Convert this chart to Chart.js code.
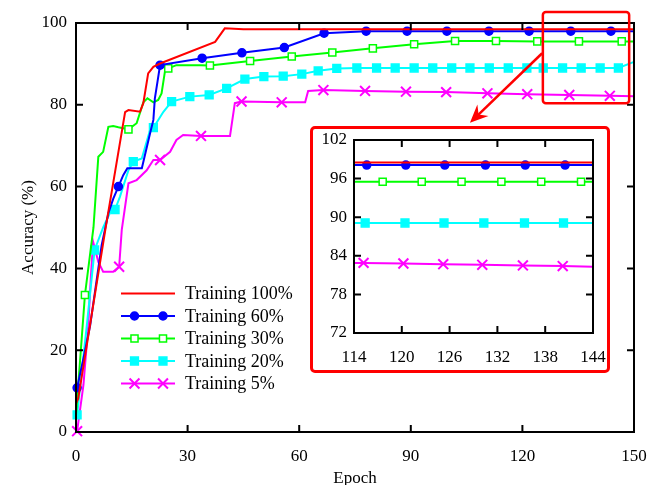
<!DOCTYPE html>
<html>
<head>
<meta charset="utf-8">
<script src="https://cdn.jsdelivr.net/npm/chart.js@4.4.0/dist/chart.umd.min.js"></script>
<style>
  body { margin: 0; background: #fff; }
  #wrap { position: relative; width: 652px; height: 485px; }
  #zoomBox {
    position: absolute; left: 310px; top: 126px; width: 300px; height: 247px;
    border: 3px solid #ff0000; border-radius: 5px; box-sizing: border-box; background: #fff;
  }
  #zoomBox canvas { position: absolute; left: 0; top: 0; }
</style>
</head>
<body>
<div id="wrap">
  <canvas id="mainChart" width="652" height="485"></canvas>
  <div id="zoomBox"><canvas id="insetChart" width="294" height="241"></canvas></div>
</div>
<script>
Chart.defaults.font.family = '"Liberation Serif", "Times New Roman", serif';
Chart.defaults.color = "#000";

// labels and ticks
const seriesLabels = ["Training 100%", "Training 60%", "Training 30%", "Training 20%", "Training 5%"];
const xTicks = [0, 30, 60, 90, 120, 150];
const yTicks = [0, 20, 40, 60, 80, 100];
const insetXTicks = [114, 120, 126, 132, 138, 144];
const insetYTicks = [72, 78, 84, 90, 96, 102];

// main plot: epoch / accuracy (%) / epochs that carry a marker
const epochs100 = [0, 0.6, 7.8, 13.2, 14.1, 17.2, 18.1, 19.4, 20.8, 22.6, 37.4, 40, 45, 150];
const acc100 = [7, 8.2, 49, 78.2, 78.7, 78.3, 80.4, 87.7, 89.3, 90.1, 95.4, 98.7, 98.5, 98.5];

const epochs60 = [0.3, 2, 3.8, 6, 6.9, 8.7, 10, 11.4, 12.7, 13.8, 17.7, 19.9, 20.8, 21.2, 21.9, 22.6, 33.9, 44.6, 56, 66.7, 78, 89, 99.7, 111, 121.8, 133, 143.8, 150];
const acc60 = [10.8, 18, 26, 40, 45.7, 53.5, 57, 60, 62.8, 64.5, 64.5, 73, 76.3, 81.6, 85.6, 89.7, 91.4, 92.7, 94, 97.5, 98, 98, 98, 98, 98, 98, 98, 98];
const marks60 = [0.3, 11.4, 22.6, 33.9, 44.6, 56, 66.7, 78, 89, 99.7, 111, 121.8, 133, 143.8];

const epochs30 = [0, 2.4, 4.7, 6, 7.3, 8.7, 10, 11.4, 14.1, 16.3, 18.1, 19.2, 20.8, 22.1, 23, 23.9, 24.8, 27, 33.3, 36, 46.8, 58, 68.9, 79.8, 90.9, 101.9, 112.9, 124, 135.2, 146.7, 150];
const acc30 = [4, 33.5, 50, 67.3, 68.5, 74.6, 74.8, 74.5, 74, 75.5, 80.6, 81.6, 80.6, 81.2, 82.8, 88.1, 88.9, 89.7, 89.7, 89.6, 90.7, 91.8, 92.8, 93.8, 94.8, 95.6, 95.6, 95.5, 95.5, 95.5, 95.5];
const marks30 = [2.4, 14.1, 24.8, 36, 46.8, 58, 68.9, 79.8, 90.9, 101.9, 112.9, 124, 135.2, 146.7];

const epochs20 = [0.3, 2.9, 5, 7.3, 9.6, 10.5, 11.8, 14.1, 15.4, 17.7, 19.9, 20.8, 23.5, 25.7, 30.6, 35.8, 40.5, 45.4, 50.5, 55.7, 60.7, 65.1, 70.1, 75.5, 80.8, 85.8, 90.9, 95.9, 101, 105.9, 111.1, 116.2, 121.2, 125.6, 130.8, 135.8, 140.9, 145.8, 150];
const acc20 = [4.2, 26, 44.5, 50, 54.5, 54.4, 57.5, 64, 66.1, 66.9, 73.8, 74.4, 78.3, 80.8, 82, 82.4, 84, 86.3, 86.9, 87, 87.5, 88.3, 88.9, 89, 89, 89, 89, 89, 89, 89, 89, 89, 89, 89, 89, 89, 89, 89, 90.5];
const marks20 = [0.3, 5, 10.5, 15.4, 20.8, 25.7, 30.6, 35.8, 40.5, 45.4, 50.5, 55.7, 60.7, 65.1, 70.1, 75.5, 80.8, 85.8, 90.9, 95.9, 101, 105.9, 111.1, 116.2, 121.2, 125.6, 130.8, 135.8, 140.9, 145.8];

const epochs5 = [0.3, 2, 3.3, 4, 4.6, 6, 7.3, 10, 11.6, 12.3, 14.1, 16.3, 19, 20.8, 22.6, 25.3, 27, 28.8, 33.6, 41.4, 42.7, 44.5, 55.3, 61.6, 62.4, 66.5, 77.7, 88.7, 99.5, 110.6, 121.3, 132.6, 143.5, 150];
const acc5 = [0.2, 11.5, 26, 38, 46.5, 41.6, 39.2, 39.2, 40.4, 49.4, 60.8, 61.6, 64, 66.5, 66.5, 68.5, 71.4, 72.6, 72.4, 72.4, 80.4, 80.8, 80.6, 80.6, 83.4, 83.6, 83.4, 83.2, 83.1, 82.8, 82.6, 82.4, 82.2, 82.1];
const marks5 = [0.3, 11.6, 22.6, 33.6, 44.5, 55.3, 66.5, 77.7, 88.7, 99.5, 110.6, 121.3, 132.6, 143.5];

// zoomed inset (epochs 114-144)
const insetEpochs100 = [114, 144];
const insetAcc100 = [98.5, 98.5];
const insetEpochs60 = [114, 115.6, 120.5, 125.4, 130.5, 135.5, 140.5, 144];
const insetAcc60 = [98.1, 98.1, 98.1, 98.1, 98.1, 98.1, 98.1, 98.1];
const insetEpochs30 = [114, 117.6, 122.5, 127.5, 132.5, 137.5, 142.5, 144];
const insetAcc30 = [95.5, 95.5, 95.5, 95.5, 95.5, 95.5, 95.5, 95.5];
const insetEpochs20 = [114, 115.4, 120.4, 125.3, 130.3, 135.4, 140.3, 144];
const insetAcc20 = [89.1, 89.1, 89.1, 89.1, 89.1, 89.1, 89.1, 89.1];
const insetEpochs5 = [114, 115.2, 120.2, 125.2, 130.1, 135.2, 140.2, 144];
const insetAcc5 = [82.9, 82.9, 82.8, 82.7, 82.6, 82.5, 82.4, 82.3];

const styles = [
  { color: "#ff0000", shape: null },
  { color: "#0000ff", shape: "circle", radius: 4, fill: "#0000ff" },
  { color: "#00ff00", shape: "rect", radius: 5, fill: "#ffffff" },
  { color: "#00ffff", shape: "rect", radius: 5.5, fill: "#00ffff" },
  { color: "#ff00ff", shape: "crossRot", radius: 7, fill: "#ff00ff" },
];

const points = (xs, ys) => xs.map((x, i) => ({ x: x, y: ys[i] }));

// marks === null -> marker on every inner point (inset)
const makeDataset = (i, xs, ys, marks) => {
  const s = styles[i];
  const hasMark = (c) => {
    if (!s.shape || !c.raw) return false;
    if (marks) return marks.includes(c.raw.x);
    return c.dataIndex > 0 && c.dataIndex < xs.length - 1;
  };
  return {
    label: seriesLabels[i],
    data: points(xs, ys),
    borderColor: s.color,
    borderWidth: 2,
    pointStyle: s.shape || "circle",
    pointRadius: (c) => (hasMark(c) ? s.radius : 0),
    pointBackgroundColor: s.fill || s.color,
    pointBorderColor: s.color,
    pointBorderWidth: s.shape === "crossRot" ? 2 : 1.5,
    tension: 0,
    clip: false,
  };
};

function drawMarker(ctx, s, px, py) {
  const h = s.radius * Math.SQRT1_2;
  ctx.save();
  ctx.fillStyle = s.fill;
  ctx.strokeStyle = s.color;
  ctx.lineWidth = s.shape === "crossRot" ? 2 : 1.5;
  ctx.beginPath();
  if (s.shape === "circle") {
    ctx.arc(px, py, s.radius, 0, Math.PI * 2);
  } else if (s.shape === "rect") {
    ctx.rect(px - h, py - h, 2 * h, 2 * h);
  } else {
    ctx.moveTo(px - h, py - h); ctx.lineTo(px + h, py + h);
    ctx.moveTo(px - h, py + h); ctx.lineTo(px + h, py - h);
  }
  if (s.shape !== "crossRot") ctx.fill();
  ctx.stroke();
  ctx.restore();
}

// box around plot with inward ticks on all four sides
const framePlugin = {
  id: "frame",
  afterDatasetsDraw(chart, args, opts) {
    const { ctx, chartArea: a, scales: { x, y } } = chart;
    const len = opts.tick;
    ctx.save();
    ctx.strokeStyle = "#000";
    ctx.lineWidth = opts.width;
    ctx.strokeRect(a.left, a.top, a.right - a.left, a.bottom - a.top);
    ctx.beginPath();
    x.ticks.forEach((t) => {
      if (t.value <= x.min || t.value >= x.max) return;
      const px = x.getPixelForValue(t.value);
      ctx.moveTo(px, a.bottom); ctx.lineTo(px, a.bottom - len);
      ctx.moveTo(px, a.top); ctx.lineTo(px, a.top + len);
    });
    y.ticks.forEach((t) => {
      if (t.value <= y.min || t.value >= y.max) return;
      const py = y.getPixelForValue(t.value);
      ctx.moveTo(a.left, py); ctx.lineTo(a.left + len, py);
      ctx.moveTo(a.right, py); ctx.lineTo(a.right - len, py);
    });
    ctx.stroke();
    ctx.restore();
  },
};

// red box over the zoomed region + arrow down to the inset
const zoomMarkPlugin = {
  id: "zoomMark",
  afterDraw(chart) {
    const { ctx, scales: { x, y } } = chart;
    const l = x.getPixelForValue(125.5), r = x.getPixelForValue(148.7);
    const t = y.getPixelForValue(102.7), b = y.getPixelForValue(80.4);
    ctx.save();
    ctx.strokeStyle = "#ff0000";
    ctx.fillStyle = "#ff0000";
    ctx.lineWidth = 2.5;
    ctx.beginPath();
    if (ctx.roundRect) ctx.roundRect(l, t, r - l, b - t, 3);
    else ctx.rect(l, t, r - l, b - t);
    ctx.stroke();

    const x0 = x.getPixelForValue(125.3), y0 = y.getPixelForValue(92.6);
    const x1 = x.getPixelForValue(105.9), y1 = y.getPixelForValue(75.6);
    const ang = Math.atan2(y1 - y0, x1 - x0);
    const headLen = 18, headW = 8;
    const bx = x1 - Math.cos(ang) * headLen, by = y1 - Math.sin(ang) * headLen;
    ctx.beginPath();
    ctx.moveTo(x0, y0);
    ctx.lineTo(x1 - Math.cos(ang) * 10, y1 - Math.sin(ang) * 10);
    ctx.stroke();
    ctx.beginPath();
    ctx.moveTo(x1, y1);
    ctx.lineTo(bx + Math.sin(ang) * headW, by - Math.cos(ang) * headW);
    ctx.lineTo(x1 - Math.cos(ang) * 12, y1 - Math.sin(ang) * 12);
    ctx.lineTo(bx - Math.sin(ang) * headW, by + Math.cos(ang) * headW);
    ctx.closePath();
    ctx.fill();
    ctx.restore();
  },
};

const legendPlugin = {
  id: "cornerLegend",
  afterDraw(chart, args, opts) {
    const { ctx } = chart;
    ctx.save();
    ctx.font = '18px "Liberation Serif"';
    ctx.textBaseline = "middle";
    chart.data.datasets.forEach((ds, i) => {
      const yy = opts.top + i * opts.rowGap;
      const s = styles[i];
      ctx.strokeStyle = s.color;
      ctx.lineWidth = 2;
      ctx.beginPath();
      ctx.moveTo(opts.left, yy);
      ctx.lineTo(opts.left + opts.lineLen, yy);
      ctx.stroke();
      if (s.shape) {
        drawMarker(ctx, s, opts.left + 13.5, yy);
        drawMarker(ctx, s, opts.left + 42, yy);
      }
      ctx.fillStyle = "#000";
      ctx.fillText(ds.label, opts.left + opts.lineLen + 10, yy + 1);
    });
    ctx.restore();
  },
};

const tickFont = { size: 17 };
// keep tick label overhang from shrinking the plot box
const fixX = (h) => (s) => { s.height = h; s.paddingLeft = 0; s.paddingRight = 0; };
const fixY = (w) => (s) => { s.width = w; s.paddingTop = 0; s.paddingBottom = 0; };

new Chart(document.getElementById("mainChart"), {
  type: "line",
  data: {
    datasets: [
      makeDataset(0, epochs100, acc100, []),
      makeDataset(1, epochs60, acc60, marks60),
      makeDataset(2, epochs30, acc30, marks30),
      makeDataset(3, epochs20, acc20, marks20),
      makeDataset(4, epochs5, acc5, marks5),
    ],
  },
  options: {
    responsive: false,
    animation: false,
    layout: { padding: { top: 23, right: 18, left: 0, bottom: 0 } },
    scales: {
      x: {
        type: "linear",
        min: xTicks[0],
        max: xTicks[xTicks.length - 1],
        afterBuildTicks: (s) => { s.ticks = xTicks.map((v) => ({ value: v })); },
        afterFit: fixX(53),
        ticks: { font: tickFont, padding: 14, maxRotation: 0 },
        grid: { display: false, drawTicks: false },
        border: { display: false },
        title: { display: true, text: "Epoch", font: { size: 17 }, padding: { top: 0, bottom: -4 } },
      },
      y: {
        min: yTicks[0],
        max: yTicks[yTicks.length - 1],
        afterBuildTicks: (s) => { s.ticks = yTicks.map((v) => ({ value: v })); },
        afterFit: fixY(76),
        ticks: { font: tickFont, padding: 9 },
        grid: { display: false, drawTicks: false },
        border: { display: false },
        title: { display: true, text: "Accuracy (%)", font: { size: 17 }, padding: { top: 18, bottom: 0 } },
      },
    },
    plugins: {
      legend: { display: false },
      tooltip: { enabled: false },
      frame: { tick: 7, width: 2 },
      cornerLegend: { left: 121, top: 293.5, rowGap: 22.5, lineLen: 54 },
    },
  },
  plugins: [framePlugin, zoomMarkPlugin, legendPlugin],
});

new Chart(document.getElementById("insetChart"), {
  type: "line",
  data: {
    datasets: [
      makeDataset(0, insetEpochs100, insetAcc100, null),
      makeDataset(1, insetEpochs60, insetAcc60, null),
      makeDataset(2, insetEpochs30, insetAcc30, null),
      makeDataset(3, insetEpochs20, insetAcc20, null),
      makeDataset(4, insetEpochs5, insetAcc5, null),
    ],
  },
  options: {
    responsive: false,
    animation: false,
    layout: { padding: { top: 11, right: 14, left: 0, bottom: 0 } },
    scales: {
      x: {
        type: "linear",
        min: insetXTicks[0],
        max: insetXTicks[insetXTicks.length - 1],
        afterBuildTicks: (s) => { s.ticks = insetXTicks.map((v) => ({ value: v })); },
        afterFit: fixX(37),
        ticks: { font: tickFont, padding: 14, maxRotation: 0 },
        grid: { display: false, drawTicks: false },
        border: { display: false },
      },
      y: {
        min: insetYTicks[0],
        max: insetYTicks[insetYTicks.length - 1],
        afterBuildTicks: (s) => { s.ticks = insetYTicks.map((v) => ({ value: v })); },
        afterFit: fixY(41),
        ticks: { font: tickFont, padding: 7 },
        grid: { display: false, drawTicks: false },
        border: { display: false },
      },
    },
    plugins: {
      legend: { display: false },
      tooltip: { enabled: false },
      frame: { tick: 7, width: 2 },
    },
  },
  plugins: [framePlugin],
});
</script>
</body>
</html>
